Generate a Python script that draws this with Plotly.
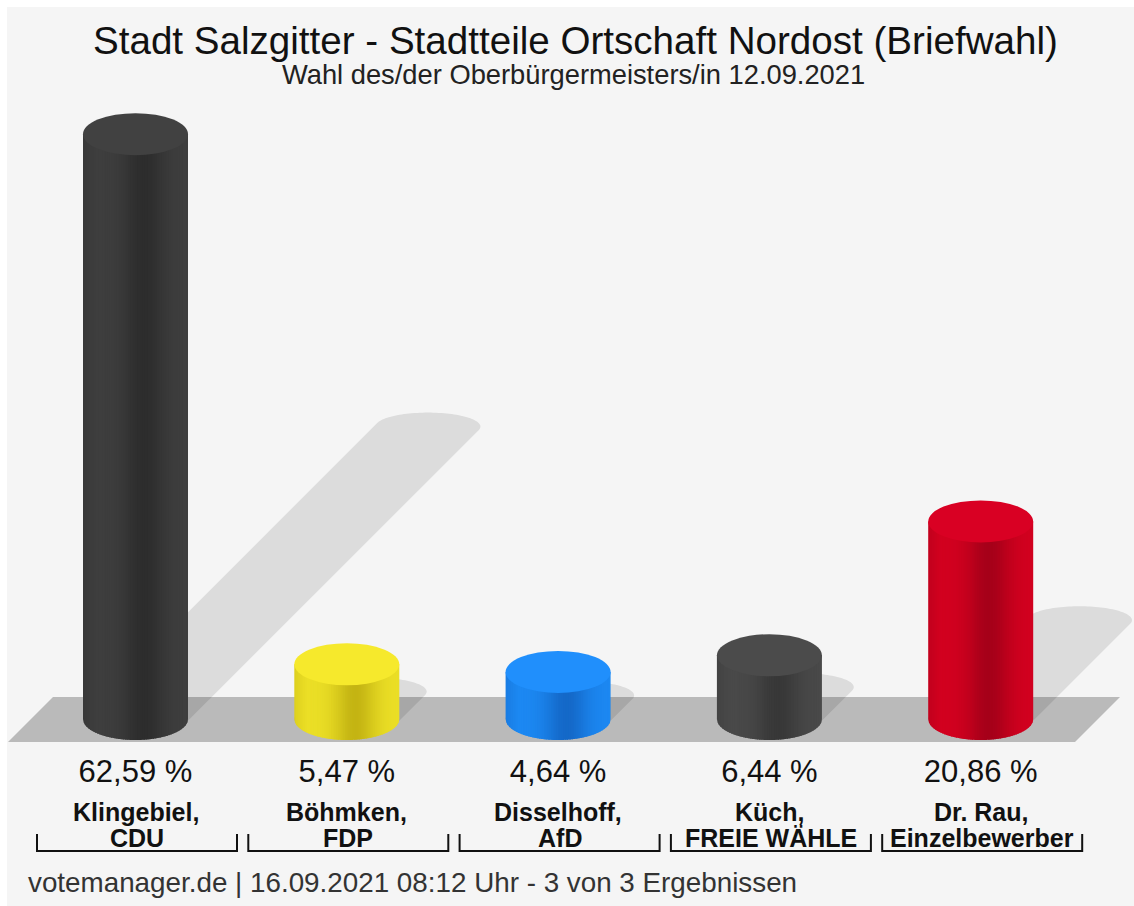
import numpy as np
import plotly.graph_objects as go

# ---------------- data ----------------
names = ["Klingebiel,", "Böhmken,", "Disselhoff,", "Küch,", "Dr. Rau,"]
parties = ["CDU", "FDP", "AfD", "FREIE WÄHLE", "Einzelbewerber"]
shares = [62.59, 5.47, 4.64, 6.44, 20.86]

top_colors = ["#414141", "#f6e92c", "#208ffc", "#4b4b4b", "#d90023"]
side_light = ["#3e3e3e", "#ebdf26", "#1c88f2", "#494949", "#d2001f"]
side_dark = ["#2c2c2c", "#c2b212", "#1467c6", "#373737", "#a30019"]

title = "Stadt Salzgitter - Stadtteile Ortschaft Nordost (Briefwahl)"
subtitle = "Wahl des/der Oberbürgermeisters/in 12.09.2021"
footer = "votemanager.de | 16.09.2021 08:12 Uhr - 3 von 3 Ergebnissen"

# ---------------- canvas geometry (pixels) ----------------
W, H = 1134, 906
PAD_L, PAD_T = 7, 7
CAT_PX = 211.3      # distance between neighbouring columns
FIRST_PX = 135.5    # centre of the first column
PCT_PX = 9.28       # pixels per percentage point
ZERO_PX = 715       # vertical pixel of 0 %
BASE_PX = 719       # centre of the cylinders' bottom ellipse
RX_PX, RY_PX = 52.5, 21
SHADOW_RY_PX = 14

x_min = -(FIRST_PX - PAD_L) / CAT_PX
x_max = x_min + (W - PAD_L) / CAT_PX
y_max = (ZERO_PX - PAD_T) / PCT_PX
y_min = -(H - ZERO_PX) / PCT_PX


def xd(px):
    return x_min + (px - PAD_L) / CAT_PX


def yd(py):
    return (ZERO_PX - py) / PCT_PX


rx = RX_PX / CAT_PX
ry = RY_PX / PCT_PX
sry = SHADOW_RY_PX / PCT_PX
base_y = yd(BASE_PX)
FONT = "Liberation Sans, Arial, Helvetica, sans-serif"


def hex_rgb(h):
    h = h.lstrip("#")
    return np.array([int(h[i:i + 2], 16) for i in (0, 2, 4)], dtype=float)


def mix(c1, c2, t):
    c = hex_rgb(c1) * (1 - t) + hex_rgb(c2) * t
    return "rgb(%d,%d,%d)" % tuple(np.clip(np.round(c), 0, 255))


def path_of(points):
    return "M " + " L ".join("%.5f,%.5f" % (px, py) for px, py in points) + " Z"


def convex_hull(pts):
    pts = sorted(set(pts))

    def cross(o, a, b):
        return (a[0] - o[0]) * (b[1] - o[1]) - (a[1] - o[1]) * (b[0] - o[0])

    lower, upper = [], []
    for p in pts:
        while len(lower) >= 2 and cross(lower[-2], lower[-1], p) <= 0:
            lower.pop()
        lower.append(p)
    for p in reversed(pts):
        while len(upper) >= 2 and cross(upper[-2], upper[-1], p) <= 0:
            upper.pop()
        upper.append(p)
    return lower[:-1] + upper[:-1]


shapes = []

# floor slab
floor = [(xd(8), yd(742)), (xd(53), yd(697)), (xd(1120), yd(697)), (xd(1075), yd(742))]
shapes.append(dict(type="path", path=path_of(floor), xref="x", yref="y",
                   fillcolor="#bababa", line=dict(width=0), layer="above"))

theta = np.linspace(0, 2 * np.pi, 120, endpoint=False)

# drop shadows, cast up and to the right at half the column height
for i, v in enumerate(shares):
    h_px = v * PCT_PX + (BASE_PX - ZERO_PX)
    off = 0.5 * h_px
    ox, oy = off / CAT_PX, off / PCT_PX
    pts = []
    for cx, cy in ((i, base_y), (i + ox, base_y + oy)):
        pts += [(cx + rx * np.cos(t), cy + sry * np.sin(t)) for t in theta]
    hull = convex_hull([(round(a, 6), round(b, 6)) for a, b in pts])
    shapes.append(dict(type="path", path=path_of(hull), xref="x", yref="y",
                       fillcolor="rgba(0,0,0,0.10)", line=dict(width=0), layer="above"))

# cylinders: shaded side built from thin vertical strips, then the top face
N_STRIPS = 60
for i, v in enumerate(shares):
    for k in range(N_STRIPS):
        u0, u1 = k / N_STRIPS, min((k + 1.6) / N_STRIPS, 1.0)
        um = (k + 0.5) / N_STRIPS
        w = np.exp(-((um - 0.58) / 0.2) ** 2) * 0.95 + 0.35 * max(0.0, 0.12 - um) / 0.12
        x0 = i - rx + 2 * rx * u0
        x1 = i - rx + 2 * rx * u1
        bottom = []
        for xs in np.linspace(x1, x0, 5):
            q = (xs - i) / rx
            bottom.append((xs, base_y - ry * np.sqrt(max(0.0, 1 - q * q))))
        poly = [(x0, v), (x1, v)] + bottom
        shapes.append(dict(type="path", path=path_of(poly), xref="x", yref="y",
                           fillcolor=mix(side_light[i], side_dark[i], min(w, 1.0)),
                           line=dict(width=0), layer="above"))
    shapes.append(dict(type="circle", xref="x", yref="y",
                       x0=i - rx, x1=i + rx, y0=v - ry, y1=v + ry,
                       fillcolor=top_colors[i], line=dict(width=0), layer="above"))

# brackets under the candidate names
half = 100 / CAT_PX
for i in range(len(shares)):
    xl, xr = i - half + 1.5 / CAT_PX, i + half + 1.5 / CAT_PX
    shapes.append(dict(type="path", xref="x", yref="y",
                       path="M %.5f,%.5f L %.5f,%.5f L %.5f,%.5f L %.5f,%.5f" % (
                           xl, yd(834), xl, yd(851), xr, yd(851), xr, yd(834)),
                       line=dict(color="#111111", width=2), layer="above"))

pct_labels = [("%.2f" % v).replace(".", ",") + " %" for v in shares]
idx = list(range(len(shares)))

fig = go.Figure()
fig.add_trace(go.Scatter(x=idx, y=shares, mode="markers", marker=dict(opacity=0),
                         hoverinfo="skip", showlegend=False))
fig.add_trace(go.Scatter(x=idx, y=[yd(774)] * len(idx), mode="text", text=pct_labels,
                         textposition="middle center",
                         textfont=dict(family=FONT, size=31, color="#111111"),
                         hoverinfo="skip", showlegend=False))

annotations = [
    dict(x=xd(575), y=yd(40), text=title, showarrow=False, xanchor="center", yanchor="middle",
         font=dict(family=FONT, size=38.6, color="#111111")),
    dict(x=xd(573), y=yd(74), text=subtitle, showarrow=False, xanchor="center", yanchor="middle",
         font=dict(family=FONT, size=27.3, color="#222222")),
    dict(x=xd(26), y=yd(882), text=footer, showarrow=False, xanchor="left", yanchor="middle",
         font=dict(family=FONT, size=27.8, color="#333333")),
]
for i in idx:
    annotations.append(dict(x=i, y=yd(812), text="<b>%s</b>" % names[i], showarrow=False,
                            xanchor="center", yanchor="middle",
                            font=dict(family=FONT, size=25, color="#111111")))
    annotations.append(dict(x=i + 1.5 / CAT_PX, y=yd(838), text="<b>%s</b>" % parties[i],
                            showarrow=False, xanchor="center", yanchor="middle",
                            font=dict(family=FONT, size=25, color="#111111")))

fig.update_layout(
    width=W, height=H,
    margin=dict(l=PAD_L, t=PAD_T, r=0, b=0, pad=0),
    paper_bgcolor="#ffffff", plot_bgcolor="#f5f5f5",
    xaxis=dict(range=[x_min, x_max], visible=False, fixedrange=True),
    yaxis=dict(range=[y_min, y_max], visible=False, fixedrange=True),
    shapes=shapes, annotations=annotations, showlegend=False,
)

fig.write_html("out.html")
